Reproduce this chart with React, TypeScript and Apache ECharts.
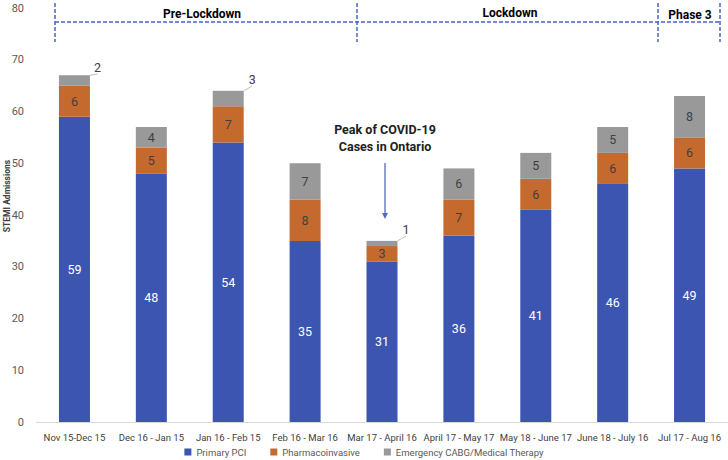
import React, { useEffect, useRef } from "react";
import * as echarts from "echarts";

const categories = [
  "Nov 15-Dec 15",
  "Dec 16 - Jan 15",
  "Jan 16 - Feb 15",
  "Feb 16 - Mar 16",
  "Mar 17 - April 16",
  "April 17 - May 17",
  "May 18 - June 17",
  "June 18 - July 16",
  "Jul 17 - Aug 16",
];
const primaryPCI = [59, 48, 54, 35, 31, 36, 41, 46, 49];
const pharmacoinvasive = [6, 5, 7, 8, 3, 7, 6, 6, 6];
const emergencyCABG = [2, 4, 3, 7, 1, 6, 5, 5, 8];
const yTicks = { min: 0, max: 80, interval: 10 };

const FONT = "Roboto, 'Noto Sans', sans-serif";
const BLUE = "#3B55B1";
const ORANGE = "#C56A2E";
const GRAY = "#999999";
const DASH = "#4A63C7";

export default function App() {
  const ref = useRef<HTMLDivElement>(null);
  useEffect(() => {
    if (!ref.current) return;
    const chart = echarts.init(ref.current, null, { renderer: "svg" });
    const smallOffsets: Record<number, [number, number]> = {
      0: [23, -13],
      2: [24, -19],
      4: [24, -14],
    };
    chart.setOption({
      animation: false,
      textStyle: { fontFamily: FONT },
      grid: { left: 36, top: 8, bottom: 38, width: 699 },
      xAxis: {
        type: "category",
        data: categories,
        axisLine: { lineStyle: { color: "#D9D9D9" } },
        axisTick: { show: false },
        axisLabel: { color: "#404040", fontSize: 9.5, fontFamily: FONT, margin: 10, interval: 0 },
      },
      yAxis: {
        type: "value",
        min: yTicks.min,
        max: yTicks.max,
        interval: yTicks.interval,
        splitLine: { show: false },
        axisLine: { show: false },
        axisTick: { show: false },
        axisLabel: { color: "#595959", fontSize: 11, fontFamily: FONT, margin: 12 },
      },
      legend: {
        top: 442,
        left: "center",
        itemWidth: 7,
        itemHeight: 7,
        itemGap: 24,
        icon: "rect",
        textStyle: { color: "#595959", fontSize: 9.5, fontFamily: FONT },
        data: ["Primary PCI", "Pharmacoinvasive", "Emergency CABG/Medical Therapy"],
      },
      series: [
        {
          name: "Primary PCI",
          type: "bar",
          stack: "total",
          barWidth: 31,
          data: primaryPCI,
          itemStyle: { color: BLUE },
          label: { show: true, position: "inside", color: "#FFFFFF", fontSize: 12.5, fontFamily: FONT },
        },
        {
          name: "Pharmacoinvasive",
          type: "bar",
          stack: "total",
          barWidth: 31,
          data: pharmacoinvasive,
          itemStyle: { color: ORANGE },
          label: { show: true, position: "inside", color: "#404040", fontSize: 12.5, fontFamily: FONT },
        },
        {
          name: "Emergency CABG/Medical Therapy",
          type: "bar",
          stack: "total",
          barWidth: 31,
          data: emergencyCABG.map((v, i) =>
            smallOffsets[i]
              ? { value: v, labelLine: { show: true, lineStyle: { color: "#BFBFBF", width: 1 } } }
              : v
          ),
          itemStyle: { color: GRAY },
          label: { show: true, position: "inside", color: "#404040", fontSize: 12.5, fontFamily: FONT },
          labelLayout: (params: any) => {
            const o = smallOffsets[params.dataIndex];
            if (o) return { dx: o[0], dy: o[1] };
            return {};
          },
        },
      ],
      graphic: [
        {
          type: "text",
          x: 7,
          y: 196,
          rotation: Math.PI / 2,
          style: {
            text: "STEMI Admissions",
            fill: "#404040",
            font: `bold 8.5px ${FONT}`,
            align: "center",
            verticalAlign: "middle",
          },
        },
        {
          type: "line",
          shape: { x1: 55, y1: 22, x2: 720, y2: 22 },
          style: { stroke: DASH, lineWidth: 1.5, lineDash: [4, 2] },
        },
        ...[55, 357, 658, 720].map((x) => ({
          type: "line",
          shape: { x1: x, y1: 3, x2: x, y2: 42 },
          style: { stroke: DASH, lineWidth: 1.5, lineDash: [4, 2] },
        })),
        ...[
          ["Pre-Lockdown", 202, 14],
          ["Lockdown", 510, 13],
          ["Phase 3", 690, 15],
        ].map(([t, x, y]) => ({
          type: "text",
          x: x as number,
          y: y as number,
          style: {
            text: t as string,
            fill: "#000000",
            font: `bold 12px ${FONT}`,
            align: "center",
            verticalAlign: "middle",
          },
        })),
        {
          type: "text",
          x: 385,
          y: 138,
          style: {
            text: "Peak of COVID-19\nCases in Ontario",
            fill: "#202020",
            font: `bold 12.5px ${FONT}`,
            lineHeight: 17,
            align: "center",
            verticalAlign: "middle",
          },
        },
        {
          type: "line",
          shape: { x1: 385, y1: 163, x2: 385, y2: 214 },
          style: { stroke: "#5468C4", lineWidth: 1.3 },
        },
        {
          type: "polygon",
          shape: { points: [[382, 213], [388, 213], [385, 219]] },
          style: { fill: "#5468C4" },
        },
      ],
    });
    return () => chart.dispose();
  }, []);
  return (
    <div
      ref={ref}
      style={{ position: "fixed", left: 0, top: 0, width: 728, height: 460, background: "#fff" }}
    />
  );
}
